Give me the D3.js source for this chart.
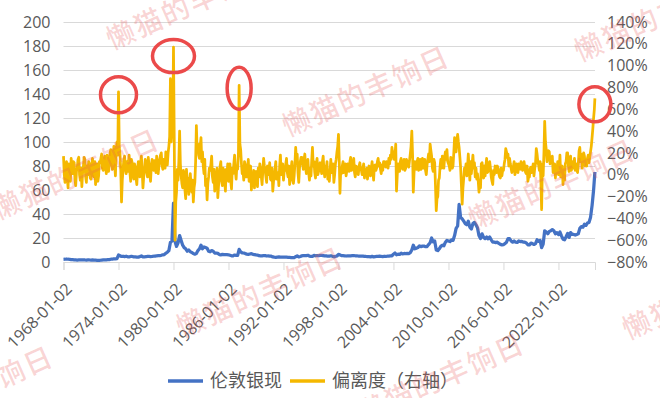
<!DOCTYPE html>
<html>
<head>
<meta charset="utf-8">
<script src="https://cdn.jsdelivr.net/npm/d3@7"></script>
<style>
body { margin: 0; background: #fff; }
</style>
</head>
<body>
<svg></svg>
<script>
// one row per year
const years = d3.range(1968, 2026);
const oddSlots = [0, 2, 4, 6, 8, 10];   // Jan, Mar, May, Jul, Sep, Nov
const evenSlots = [1, 3, 5, 7, 9, 11];  // Feb, Apr, Jun, Aug, Oct, Dec

// 伦敦银现 (USD/oz), left axis, read at oddSlots
const silverByYear = [
    [2.2, 2.3, 2.5, 2.3, 2.2, 2.0],
    [1.95, 1.85, 1.75, 1.65, 1.8, 1.85],
    [1.85, 1.85, 1.7, 1.65, 1.8, 1.7],
    [1.65, 1.7, 1.6, 1.55, 1.4, 1.35],
    [1.45, 1.6, 1.75, 1.7, 1.85, 1.95],
    [2.0, 2.3, 2.3, 2.7, 2.6, 2.8],
    [5.8, 5.2, 4.6, 4.8, 4.5, 4.8],
    [4.3, 4.3, 4.6, 4.6, 4.3, 4.2],
    [4.0, 4.1, 4.5, 5.0, 4.2, 4.3],
    [4.4, 4.7, 4.6, 4.5, 4.6, 4.8],
    [4.9, 5.2, 5.3, 5.4, 5.6, 6.0],
    [6.2, 7.2, 8.2, 9.5, 16.5, 17.5],
    [49, 17, 13, 16, 22, 18],
    [14, 12, 11, 9, 10, 8.5],
    [8, 7, 6.5, 7, 9.5, 11],
    [14, 11, 12.5, 12, 11.5, 9],
    [8.5, 9.5, 9, 7.5, 7.5, 7.2],
    [6.2, 6.0, 6.3, 6.1, 6.2, 6.1],
    [6.0, 5.6, 5.2, 5.1, 5.8, 5.5],
    [5.5, 10.5, 8.5, 7.6, 7.5, 7.0],
    [6.6, 6.4, 6.7, 7.0, 6.4, 6.2],
    [5.9, 5.8, 5.3, 5.2, 5.1, 5.4],
    [5.3, 5.0, 5.1, 4.9, 4.8, 4.2],
    [4.0, 3.9, 4.1, 4.2, 4.0, 4.05],
    [4.1, 4.1, 4.0, 3.9, 3.8, 3.7],
    [3.7, 3.6, 4.4, 5.1, 4.2, 4.6],
    [5.1, 5.4, 5.3, 5.3, 5.6, 4.9],
    [4.7, 4.7, 5.5, 5.2, 5.4, 5.2],
    [5.5, 5.5, 5.3, 5.1, 5.1, 4.8],
    [4.8, 5.2, 4.8, 4.3, 4.7, 5.0],
    [6.3, 6.0, 5.3, 5.3, 5.2, 5.0],
    [5.2, 5.1, 5.2, 5.3, 5.4, 5.2],
    [5.2, 5.0, 5.0, 5.0, 4.9, 4.7],
    [4.6, 4.4, 4.4, 4.3, 4.7, 4.2],
    [4.5, 4.6, 4.7, 4.9, 4.6, 4.5],
    [4.8, 4.6, 4.8, 4.9, 5.1, 5.2],
    [6.5, 7.5, 6.0, 6.5, 6.3, 7.4],
    [6.7, 7.1, 7.0, 7.1, 7.0, 7.8],
    [10, 14, 11, 11.5, 12, 13.5],
    [12.8, 13.2, 13.3, 12.8, 12.9, 14.5],
    [16, 20, 16.8, 17.5, 10, 9.5],
    [11, 13, 14, 13.5, 16.5, 18],
    [17.5, 17, 18.5, 18, 22, 28],
    [30, 48, 37, 36, 34, 32],
    [31, 34, 29, 27.5, 32, 33],
    [31, 28.5, 22, 19.5, 23.5, 20.5],
    [19.5, 20.8, 19.3, 20.8, 18.5, 16.5],
    [16.5, 16.2, 16.5, 15.5, 14.7, 14.3],
    [14.5, 15.3, 16.5, 19.5, 19.5, 17.5],
    [16.5, 17.5, 16.5, 16.3, 17.5, 17.0],
    [17.2, 16.5, 16.5, 15.9, 14.3, 14.3],
    [15.7, 15.3, 14.6, 15.3, 18.5, 17.2],
    [18, 12, 15, 26, 25, 23.5],
    [25.5, 26, 27, 26, 23.5, 24.5],
    [22.8, 25, 21.8, 19, 18.5, 21],
    [23.7, 20.5, 24.5, 23, 23, 22.5],
    [23, 23.5, 28, 29.5, 29, 31.5],
    [30.5, 32.5, 33, 37, 47, 60]
];

// 偏离度 (%), right axis, read at oddSlots
const deviationByYear = [
    [17, -7, 12, -12, 4, 15],
    [1, 11, -10, 6, 16, -5],
    [-11, 7, 14, -7, 0, 10],
    [-4, 15, -2, -9, 10, -1],
    [11, 19, 4, 17, 1, 14],
    [10, 23, 5, 26, -1, 30],
    [76, 19, -25, 4, 17, 1],
    [3, 18, -6, 11, -4, 7],
    [-9, 12, -2, 17, -12, 3],
    [11, -2, 9, -6, 14, 4],
    [9, 17, 1, 14, 20, 5],
    [12, 21, 9, 26, 88, 40],
    [117, -60, -16, -5, 40, -1],
    [-12, -1, -22, -7, -18, 1],
    [-16, -25, -7, 45, 28, 15],
    [34, 21, 1, -10, -23, -2],
    [4, 17, -7, -15, -3, -21],
    [-4, 12, -10, 4, -15, 0],
    [-6, 10, -13, 1, 18, -4],
    [5, 82, 23, 1, -5, 9],
    [-2, 14, 1, -14, -4, -12],
    [3, -11, -2, 6, -9, 15],
    [4, -7, 0, 11, -5, -15],
    [-3, 12, -1, -10, 18, 3],
    [-5, 4, 15, -2, -9, 6],
    [-4, -1, 25, 19, -7, 12],
    [16, 5, 19, 1, 14, -5],
    [-1, 25, 12, -3, 15, 3],
    [11, 1, 17, -2, 5, -4],
    [-6, 14, 4, -7, 10, 21],
    [37, -17, 1, 12, 5, -1],
    [10, 3, 16, 5, 15, -2],
    [7, 0, 11, 4, 6, -3],
    [1, -4, 8, -1, 12, -5],
    [9, 6, 15, 11, 1, 4],
    [12, 7, 10, 15, 18, 25],
    [21, 17, -15, 10, 3, 15],
    [5, 14, 6, 12, 7, 19],
    [40, -16, 12, 5, 15, 10],
    [5, 15, 10, 4, 9, 19],
    [28, 17, 3, 11, -33, -20],
    [-3, 14, 17, 6, 21, 23],
    [10, 4, 14, 8, 34, 21],
    [37, 25, 6, -27, -3, 4],
    [-1, 19, -5, 1, 18, 11],
    [6, 1, -16, -12, 11, -3],
    [-1, 15, 3, 12, -2, -9],
    [0, 5, 8, 1, -3, -1],
    [4, 14, 21, 19, 15, 6],
    [5, 12, 3, 6, 10, 5],
    [9, 6, 7, 1, -6, -2],
    [7, 5, -1, 10, 19, 9],
    [12, -32, -1, 49, 23, 19],
    [21, 15, 17, 5, -3, 3],
    [0, 18, 1, -9, -5, 12],
    [20, 3, 17, 9, 6, 4],
    [5, 10, 25, 19, 12, 17],
    [10, 15, 11, 21, 34, 52]
];

// 偏离度 (%), read at evenSlots
const deviationMidByYear = [
    [0, 5, -3, 10, -6, 8],
    [12, -4, 3, 14, 0, 6],
    [2, 16, -2, 8, 12, -3],
    [8, 4, 12, 0, -6, 12],
    [15, 6, 12, 8, 18, 3],
    [20, 12, 16, 8, 22, 18],
    [25, 4, -5, 14, 6, 12],
    [12, 2, 14, 0, 10, -3],
    [5, 2, 12, 4, -2, 14],
    [4, 16, 0, 8, 6, 13],
    [2, 10, 8, 18, 9, 14],
    [6, 15, 20, 35, 30, 35],
    [30, -25, 5, 12, 10, -8],
    [4, -14, 5, -3, -6, -10],
    [-5, -12, 12, 22, 18, 26],
    [12, 8, 14, -4, -8, 6],
    [10, -2, 5, -8, 6, -10],
    [8, -4, 6, -6, 5, 10],
    [2, -6, 6, 10, 4, 8],
    [20, 28, 10, 4, 12, -2],
    [6, -6, 8, -3, 4, 2],
    [-4, 6, 10, -2, 4, 8],
    [-2, 8, 4, -4, 6, -6],
    [6, -4, 2, 8, 0, 10],
    [4, 10, 2, 8, -4, 12],
    [-8, 10, 14, 2, 6, 16],
    [10, 14, 6, 10, 2, 6],
    [14, 8, 2, 10, 0, 9],
    [6, 12, 4, 8, 12, 2],
    [4, 2, 10, 0, 14, 26],
    [12, 5, 8, 2, 10, 4],
    [6, 12, 4, 10, 2, 8],
    [3, 8, 5, 0, 10, 4],
    [6, 2, 4, 6, 3, 8],
    [4, 12, 8, 5, 9, 12],
    [8, 12, 6, 10, 14, 20],
    [14, 28, 0, 6, 12, 8],
    [10, 4, 14, 8, 13, 26],
    [18, 2, 6, 12, 4, 14],
    [12, 6, 14, 0, 14, 12],
    [22, 6, 14, -10, -22, -5],
    [8, 6, 12, 16, 14, 12],
    [8, 16, 6, 20, 26, 30],
    [30, 16, -10, -12, 6, 10],
    [8, 6, 12, 10, 6, -2],
    [-4, -6, -8, 10, 2, 8],
    [8, 2, 10, 6, -6, 4],
    [8, 2, 6, -2, 6, 4],
    [10, 24, 16, 8, 10, 2],
    [8, 0, 10, 2, 8, 12],
    [4, 12, 2, 8, -2, 6],
    [2, 10, 6, 24, 12, 4],
    [-6, 10, 20, 30, 12, 22],
    [10, 12, 2, 10, 6, 12],
    [6, -2, 8, 4, 10, 20],
    [8, 14, 4, 12, 15, 10],
    [2, 22, 12, 6, 20, 8],
    [8, 18, 16, 26, 42, 60]
];

// final reading of the series
const lastDate = "2025-12-24";
const lastSilver = 75;
const lastDeviation = 70;

const tickLabels = ["1968-01-02", "1974-01-02", "1980-01-02", "1986-01-02", "1992-01-02",
    "1998-01-02", "2004-01-02", "2010-01-02", "2016-01-02", "2022-01-02"];
const leftTicks = [0, 20, 40, 60, 80, 100, 120, 140, 160, 180, 200];
const rightTicks = [-80, -60, -40, -20, 0, 20, 40, 60, 80, 100, 120, 140];

// circled peaks: date and deviation value
const peaks = [
    {date: "1974-01-02", value: 76, rx: 18, ry: 18, dy: 3},
    {date: "1980-01-02", value: 117, rx: 21, ry: 16.5, dy: 9},
    {date: "1987-03-02", value: 82, rx: 12, ry: 21, dy: 3},
    {date: "2025-12-24", value: 70, rx: 16, ry: 17.5, dy: 6}
];

const svg_width = 660;
const svg_height = 398;
const margin = {top: 22, right: 65, bottom: 136, left: 63.5};
const width = svg_width - margin.left - margin.right;
const height = svg_height - margin.top - margin.bottom;

const parse = d3.timeParse("%Y-%m-%d");
const blue = "#4472c4";
const gold = "#f5b800";
const textColor = "#595959";
const numFont = "'Open Sans', 'Liberation Sans', sans-serif";
const cjkFont = "'Noto Sans CJK SC', sans-serif";

const silver = [];
let deviation = [];
years.forEach((yr, i) => {
    oddSlots.forEach((m, j) => {
        const date = new Date(yr, m, 2);
        silver.push({date: date, value: silverByYear[i][j]});
        deviation.push({date: date, value: deviationByYear[i][j] / 100});
    });
    evenSlots.forEach((m, j) => {
        deviation.push({date: new Date(yr, m, 2), value: deviationMidByYear[i][j] / 100});
    });
});
silver.push({date: parse(lastDate), value: lastSilver});
deviation.push({date: parse(lastDate), value: lastDeviation / 100});
deviation = deviation.sort((a, b) => a.date - b.date);

const svg = d3.select("svg")
    .attr("width", svg_width)
    .attr("height", svg_height)
    .append("g")
    .attr("transform", `translate(${margin.left}, ${margin.top})`);

const xScale = d3.scaleTime()
    .domain([parse("1968-01-02"), parse("2025-12-28")])
    .range([0, width]);

const yLeft = d3.scaleLinear().domain([0, 200]).range([height, 0]);
const yRight = d3.scaleLinear().domain([-0.8, 1.4]).range([height, 0]);

// gridlines
svg.append("g")
    .call(d3.axisLeft(yLeft).tickValues(leftTicks).tickSize(-width).tickFormat(""))
    .call(g => g.select(".domain").remove())
    .call(g => g.selectAll("line").attr("stroke", "#d9d9d9").attr("stroke-width", 1));

// x axis
const xAxis = svg.append("g")
    .attr("transform", `translate(0, ${height})`)
    .call(d3.axisBottom(xScale)
        .tickValues(tickLabels.map(parse))
        .tickSize(8)
        .tickFormat(d3.timeFormat("%Y-%m-%d")));
xAxis.select(".domain").attr("stroke", "#d9d9d9");
xAxis.selectAll(".tick line").attr("stroke", "#d9d9d9");
xAxis.selectAll(".tick text")
    .attr("x", 0).attr("y", 0).attr("dy", 0)
    .attr("text-anchor", "end")
    .attr("transform", "translate(9, 28) rotate(-45)")
    .attr("fill", textColor)
    .style("font-family", numFont)
    .style("font-size", "16px");

// left axis
svg.append("g")
    .call(d3.axisLeft(yLeft).tickValues(leftTicks).tickSize(0).tickPadding(13))
    .call(g => g.select(".domain").remove())
    .call(g => g.selectAll("text")
        .attr("fill", textColor)
        .style("font-family", numFont)
        .style("font-size", "16px"));

// right axis
svg.append("g")
    .attr("transform", `translate(${width}, 0)`)
    .call(d3.axisRight(yRight).tickValues(rightTicks.map(v => v / 100)).tickSize(0).tickPadding(12)
        .tickFormat(d3.format(".0%")))
    .call(g => g.select(".domain").remove())
    .call(g => g.selectAll("text")
        .attr("fill", textColor)
        .style("font-family", numFont)
        .style("font-size", "16px"));

const silverLine = d3.line()
    .x(d => xScale(d.date))
    .y(d => yLeft(d.value));

const deviationLine = d3.line()
    .x(d => xScale(d.date))
    .y(d => yRight(d.value));

svg.append("path")
    .datum(silver)
    .attr("fill", "none")
    .attr("stroke", blue)
    .attr("stroke-width", 3.25)
    .attr("stroke-linejoin", "round")
    .attr("d", silverLine);

svg.append("path")
    .datum(deviation)
    .attr("fill", "none")
    .attr("stroke", gold)
    .attr("stroke-width", 2.75)
    .attr("stroke-linejoin", "round")
    .attr("d", deviationLine);

// red circles round the peaks
svg.append("g").selectAll("ellipse")
    .data(peaks)
    .enter()
    .append("ellipse")
    .attr("cx", d => xScale(parse(d.date)))
    .attr("cy", d => yRight(d.value / 100) + d.dy)
    .attr("rx", d => d.rx)
    .attr("ry", d => d.ry)
    .attr("fill", "none")
    .attr("stroke", "#eb4a4a")
    .attr("stroke-width", 3.5);

// legend
const legend = d3.select("svg").append("g")
    .attr("transform", "translate(168, 381)");
const legendItems = [
    {label: "伦敦银现", color: blue, x: 0},
    {label: "偏离度（右轴）", color: gold, x: 122}
];
legendItems.forEach(item => {
    legend.append("line")
        .attr("x1", item.x).attr("x2", item.x + 35)
        .attr("y1", 0).attr("y2", 0)
        .attr("stroke", item.color)
        .attr("stroke-width", 3.5);
    legend.append("text")
        .attr("x", item.x + 42)
        .attr("y", 0)
        .attr("dy", "0.35em")
        .attr("fill", textColor)
        .style("font-family", cjkFont)
        .style("font-size", "18px")
        .text(item.label);
});

// watermark
const watermarkText = "懒猫的丰饷日";
const watermarkSpots = [
    [112, 50], [288, 137], [-2, 220], [474, 230], [580, 62],
    [182, 338], [363, 424], [-108, 437], [628, 340], [-168, 152]
];
d3.select("svg").append("g")
    .selectAll("text")
    .data(watermarkSpots)
    .enter()
    .append("text")
    .attr("transform", d => `translate(${d[0]}, ${d[1]}) rotate(-24)`)
    .attr("fill", "rgba(232, 90, 90, 0.26)")
    .style("font-family", cjkFont)
    .style("font-size", "28px")
    .style("font-weight", "500")
    .style("letter-spacing", "2px")
    .text(watermarkText);
</script>
</body>
</html>
